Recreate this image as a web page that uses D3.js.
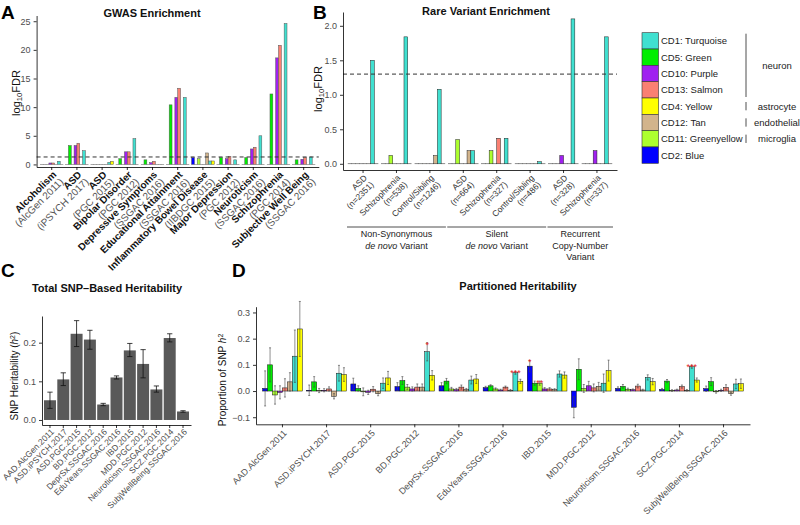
<!DOCTYPE html>
<meta charset="utf-8">
<script src="https://d3js.org/d3.v7.min.js"></script>
<style>
  body { margin: 0; background: #fff; font-family: "Liberation Sans", Arial, sans-serif; }
  .axis text { fill: #4d4d4d; font-size: 9px; font-family: "Liberation Sans", Arial, sans-serif; }
  .axis path, .axis line { stroke: #000; stroke-width: 0.8; }
  .title { font-weight: bold; font-size: 11px; fill: #111; }
  .letter { font-weight: bold; font-size: 19px; fill: #000; }
</style>
<div id="chart"></div>
<script>
// bar order inside every group (alphabetical, as ggplot dodges them)
var modules = ["blue", "green", "greenyellow", "purple", "salmon", "tan", "turquoise", "yellow"];
var moduleColors = ["#0000FF", "#00EE00", "#ADFF2F", "#A020F0", "#FA8072", "#D2B48C", "#40E0D0", "#FFFF00"];

var legendModules = ["turquoise", "green", "purple", "salmon", "yellow", "tan", "greenyellow", "blue"];
var legendLabels = ["CD1: Turquoise", "CD5: Green", "CD10: Purple", "CD13: Salmon",
  "CD4: Yellow", "CD12: Tan", "CD11: Greenyellow", "CD2: Blue"];
var cellTypes = ["neuron", "astrocyte", "endothelial", "microglia"];
var cellTypeRows = [[0, 3], [4, 4], [5, 5], [6, 6]];

// A: GWAS enrichment (log10 FDR)
var gwasTraits = ["Alcoholism", "ASD", "ASD", "Bipolar Disorder", "Depressive Symptoms",
  "Educational Attainment", "Inflammatory Bowel Disease", "Major Depression",
  "Neuroticism", "Schizophrenia", "Subjective Well Being"];
var gwasStudies = ["(AlcGen 2011)", "(iPSYCH 2017)", "(PGC 2015)", "(PGC 2012)", "(SSGAC 2016)",
  "(SSGAC 2016)", "(IIBDGC 2015)", "(PGC 2012)", "(SSGAC 2016)", "(PGC 2014)", "(SSGAC 2016)"];
var gwasFDR = [
  [0, 0, 0, 0.25, 0.25, 0, 0.55, 0],
  [0, 3.3, 0, 3.3, 3.7, 0, 2.4, 0],
  [0, 0, 0, 0, 0, 0, 0.35, 0.55],
  [0, 1.0, 0, 2.2, 2.2, 0, 4.5, 0],
  [0, 0.8, 0, 0.3, 0.55, 0, 0, 0],
  [0, 10.4, 0, 11.7, 13.3, 0, 11.7, 0],
  [1.2, 0, 1.0, 0, 0, 2.0, 0.6, 0.6],
  [0, 1.2, 0, 1.0, 1.4, 0, 0.8, 0],
  [0, 1.2, 0, 2.7, 3.0, 0, 5.0, 0],
  [0, 12.3, 0, 18.6, 20.8, 0, 24.6, 0],
  [0, 0.8, 0, 0.9, 1.2, 0, 1.3, 0]
];
var fdrCut = 1.3;

// B: rare variant enrichment
var rareGroups = ["ASD", "Schizophrenia", "Control/Sibling", "ASD", "Schizophrenia",
  "Control/Sibling", "ASD", "Schizophrenia"];
var rareN = ["(n=2351)", "(n=538)", "(n=1246)", "(n=664)", "(n=327)", "(n=486)", "(n=328)", "(n=337)"];
var rareFDR = [
  [0, 0, 0, 0, 0, 0, 1.5, 0],
  [0, 0, 0.12, 0, 0, 0, 1.84, 0],
  [0, 0, 0, 0, 0, 0.12, 1.08, 0],
  [0, 0, 0.35, 0, 0, 0.19, 0.19, 0],
  [0, 0, 0.19, 0, 0.37, 0, 0.37, 0],
  [0, 0, 0, 0, 0, 0, 0.03, 0],
  [0, 0, 0, 0.12, 0, 0, 2.1, 0],
  [0, 0, 0, 0.19, 0, 0, 1.84, 0]
];
var rareClassSpans = [[0, 2], [3, 5], [6, 7]];
var rareClassLines = [["Non-Synonymous", "*de novo* Variant"], ["Silent", "*de novo* Variant"],
  ["Recurrent", "Copy-Number", "Variant"]];

// C: total SNP heritability
var h2Studies = ["AAD.AlcGen.2011", "ASD.iPSYCH.2017", "ASD.PGC.2015", "BD.PGC.2012",
  "DeprSx.SSGAC.2016", "EduYears.SSGAC.2016", "IBD.2015", "MDD.PGC.2012",
  "Neuroticism.SSGAC.2016", "SCZ.PGC.2014", "SubjWellBeing.SSGAC.2016"];
var h2Values = [0.051, 0.105, 0.223, 0.208, 0.040, 0.110, 0.180, 0.145, 0.079, 0.212, 0.022];
var h2Low = [0.030, 0.089, 0.190, 0.183, 0.037, 0.106, 0.164, 0.109, 0.072, 0.202, 0.020];
var h2High = [0.072, 0.122, 0.257, 0.232, 0.043, 0.114, 0.198, 0.182, 0.088, 0.223, 0.024];

// D: partitioned heritability (proportion of SNP h2), same module order as above
var partValues = [
  [0.010, 0.100, -0.015, -0.005, 0.012, 0.035, 0.133, 0.237],
  [0.003, 0.035, 0.002, 0.003, 0.008, -0.020, 0.068, 0.063],
  [0.027, 0.010, -0.003, -0.005, 0.007, -0.010, 0.030, 0.050],
  [0.017, 0.040, 0.015, 0.008, 0.015, 0.015, 0.150, 0.060],
  [0.020, 0.038, 0.008, 0.005, 0.015, 0.005, 0.042, 0.046],
  [0.013, 0.020, 0.008, 0.004, 0.015, 0.003, 0.070, 0.037],
  [0.095, 0.030, 0.030, 0.008, 0.008, 0.005, 0.065, 0.061],
  [-0.062, 0.083, 0.010, 0.020, 0.012, 0.018, 0.030, 0.078],
  [0.010, 0.018, 0.007, 0.005, 0.019, 0.004, 0.052, 0.036],
  [0.006, 0.038, 0.002, 0.004, 0.017, 0.003, 0.093, 0.042],
  [0.009, 0.036, -0.003, 0.003, 0.014, -0.010, 0.027, 0.028]
];
var partErr = [
  [0.067, 0.065, 0.035, 0.025, 0.035, 0.035, 0.100, 0.105],
  [0.020, 0.020, 0.008, 0.006, 0.008, 0.010, 0.030, 0.026],
  [0.022, 0.010, 0.015, 0.008, 0.010, 0.008, 0.020, 0.025],
  [0.015, 0.015, 0.010, 0.008, 0.012, 0.012, 0.035, 0.018],
  [0.012, 0.010, 0.006, 0.005, 0.008, 0.005, 0.015, 0.017],
  [0.005, 0.004, 0.004, 0.003, 0.004, 0.003, 0.006, 0.008],
  [0.022, 0.008, 0.008, 0.005, 0.005, 0.004, 0.012, 0.012],
  [0.040, 0.040, 0.015, 0.017, 0.015, 0.015, 0.035, 0.040],
  [0.006, 0.007, 0.004, 0.003, 0.007, 0.003, 0.010, 0.012],
  [0.004, 0.006, 0.003, 0.003, 0.006, 0.003, 0.006, 0.008],
  [0.010, 0.015, 0.005, 0.004, 0.010, 0.006, 0.018, 0.018]
];
var starGroups = [3, 5, 6, 6, 9];
var starModules = ["turquoise", "turquoise", "blue", "greenyellow", "turquoise"];
var starText = ["*", "***", "*", "**", "***"];

var color = d3.scaleOrdinal().domain(modules).range(moduleColors);

var svg = d3.select("#chart").append("svg")
  .attr("width", 800)
  .attr("height", 525);

function toBars(row) {
  return row.map(function (v, j) { return { m: modules[j], v: v }; });
}

function groupedBars(g, rows, x, xin, y, stroke) {
  g.selectAll("g.grp")
    .data(rows)
    .join("g")
    .attr("class", "grp")
    .attr("transform", function (d, i) { return "translate(" + x(i) + ",0)"; })
    .selectAll("rect")
    .data(toBars)
    .join("rect")
    .attr("x", function (d) { return xin(d.m); })
    .attr("width", xin.bandwidth())
    .attr("y", function (d) { return Math.min(y(d.v), y(0)); })
    .attr("height", function (d) { return Math.max(0.01, Math.abs(y(0) - y(d.v))); })
    .attr("fill", function (d) { return color(d.m); })
    .attr("stroke", stroke)
    .attr("stroke-width", 0.5);
}

// rotated tick labels, one or more lines, right aligned on the tick
function slantLabels(g, x, y0, lines, size, lh, styles) {
  lines[0].forEach(function (t, i) {
    var txt = g.append("text")
      .attr("transform", "translate(" + (x(i) + x.bandwidth() / 2) + "," + y0 + ") rotate(-45)")
      .attr("text-anchor", "end")
      .style("font-size", size + "px");
    lines.forEach(function (arr, k) {
      txt.append("tspan")
        .attr("x", 0)
        .attr("y", size * 0.75 + k * lh)
        .attr("fill", styles[k].fill)
        .style("font-weight", styles[k].weight)
        .text(arr[i]);
    });
  });
}

function yTitle(g, x, y, parts, size) {
  var t = g.append("text")
    .attr("transform", "translate(" + x + "," + y + ") rotate(-90)")
    .attr("text-anchor", "middle")
    .style("font-size", size + "px")
    .attr("fill", "#111");
  parts.forEach(function (p) {
    var s = t.append("tspan").text(p.t);
    if (p.sub) s.attr("baseline-shift", "-25%").style("font-size", (size * 0.7) + "px");
    if (p.sup) s.attr("baseline-shift", "40%").style("font-size", (size * 0.7) + "px");
    if (p.it) s.style("font-style", "italic");
  });
}

// ---------------- A ----------------
var gA = svg.append("g");
var xA = d3.scaleBand().domain(d3.range(gwasTraits.length)).range([36.6, 318.8])
  .paddingInner(0.1).paddingOuter(0.15);
var xAin = d3.scaleBand().domain(modules).range([0, xA.bandwidth()]);
var yA = d3.scaleLinear().domain([-0.45, 26]).range([167, 15.5]);

groupedBars(gA, gwasFDR, xA, xAin, yA, "#555");

gA.append("line")
  .attr("x1", 36.6).attr("x2", 318.8)
  .attr("y1", yA(fdrCut)).attr("y2", yA(fdrCut))
  .attr("stroke", "#333").attr("stroke-width", 1).attr("stroke-dasharray", "4,3");

gA.append("g").attr("class", "axis")
  .attr("transform", "translate(0," + yA.range()[0] + ")")
  .call(d3.axisBottom(xA).tickSize(3).tickSizeOuter(0).tickFormat(""));
gA.append("g").attr("class", "axis")
  .attr("transform", "translate(36.6,0)")
  .call(d3.axisLeft(yA).tickValues([0, 5, 10, 15, 20, 25]).tickSize(3).tickSizeOuter(0));

slantLabels(gA, xA, 170, [gwasTraits, gwasStudies], 10, 10,
  [{ fill: "#111", weight: "bold" }, { fill: "#555", weight: "normal" }]);

yTitle(gA, 20, 93, [{ t: "log" }, { t: "10", sub: true }, { t: "FDR" }], 11);
gA.append("text").attr("class", "title").attr("x", 152).attr("y", 17)
  .attr("text-anchor", "middle").text("GWAS Enrichment");
gA.append("text").attr("class", "letter").attr("x", 1).attr("y", 19).text("A");

// ---------------- B ----------------
var gB = svg.append("g");
var xB = d3.scaleBand().domain(d3.range(rareGroups.length)).range([343, 617])
  .paddingInner(0.1).paddingOuter(0.15);
var xBin = d3.scaleBand().domain(modules).range([0, xB.bandwidth()]);
var yB = d3.scaleLinear().domain([-0.09, 2.2]).range([170, 12]);

groupedBars(gB, rareFDR, xB, xBin, yB, "#222");

gB.append("line")
  .attr("x1", 343).attr("x2", 617)
  .attr("y1", yB(fdrCut)).attr("y2", yB(fdrCut))
  .attr("stroke", "#333").attr("stroke-width", 1).attr("stroke-dasharray", "4,3");

gB.append("g").attr("class", "axis")
  .attr("transform", "translate(0," + yB.range()[0] + ")")
  .call(d3.axisBottom(xB).tickSize(3).tickSizeOuter(0).tickFormat(""));
gB.append("g").attr("class", "axis")
  .attr("transform", "translate(343,0)")
  .call(d3.axisLeft(yB).tickValues([0, 0.5, 1, 1.5, 2]).tickFormat(d3.format(".1f"))
    .tickSize(3).tickSizeOuter(0));

slantLabels(gB, xB, 174, [rareGroups, rareN], 8.5, 9.5,
  [{ fill: "#333", weight: "normal" }, { fill: "#333", weight: "normal" }]);

rareClassSpans.forEach(function (s, k) {
  var x1 = xB(s[0]) - 1, x2 = xB(s[1]) + xB.bandwidth() + 1;
  gB.append("line").attr("x1", x1).attr("x2", x2).attr("y1", 227).attr("y2", 227)
    .attr("stroke", "#222").attr("stroke-width", 0.8);
  var t = gB.append("text").attr("text-anchor", "middle").style("font-size", "9px").attr("fill", "#222");
  rareClassLines[k].forEach(function (line, j) {
    var ts = t.append("tspan").attr("x", (x1 + x2) / 2).attr("y", 237 + j * 11.5);
    line.split("*").forEach(function (part, p) {
      if (part === "") return;
      ts.append("tspan").style("font-style", p % 2 ? "italic" : "normal").text(part);
    });
  });
});

yTitle(gB, 322, 89, [{ t: "log" }, { t: "10", sub: true }, { t: "FDR" }], 11);
gB.append("text").attr("class", "title").attr("x", 486).attr("y", 15)
  .attr("text-anchor", "middle").text("Rare Variant Enrichment");
gB.append("text").attr("class", "letter").attr("x", 313).attr("y", 19).text("B");

// ---------------- legend ----------------
var gL = svg.append("g");
var yL = d3.scaleBand().domain(legendModules).range([32.7, 163.3]);
gL.selectAll("rect").data(legendModules).join("rect")
  .attr("x", 642).attr("width", 16.5)
  .attr("y", function (d) { return yL(d); })
  .attr("height", yL.bandwidth())
  .attr("fill", function (d) { return color(d); })
  .attr("stroke", "#333").attr("stroke-width", 0.6);
gL.selectAll("text.lg").data(legendLabels).join("text")
  .attr("class", "lg")
  .attr("x", 661)
  .attr("y", function (d, i) { return yL(legendModules[i]) + yL.bandwidth() / 2 + 3.5; })
  .style("font-size", "9.5px").attr("fill", "#222")
  .text(function (d) { return d; });
cellTypes.forEach(function (c, k) {
  var r = cellTypeRows[k];
  var top = yL(legendModules[r[0]]), bot = yL(legendModules[r[1]]) + yL.bandwidth();
  var pad = r[0] === r[1] ? 4 : 1;
  gL.append("line").attr("x1", 746).attr("x2", 746)
    .attr("y1", top + pad).attr("y2", bot - pad)
    .attr("stroke", "#222").attr("stroke-width", 0.8);
  gL.append("text").attr("x", 777).attr("y", (top + bot) / 2 + 3.5)
    .attr("text-anchor", "middle").style("font-size", "9.5px").attr("fill", "#222").text(c);
});

// ---------------- C ----------------
var gC = svg.append("g");
var xC = d3.scaleBand().domain(d3.range(h2Studies.length)).range([42, 191])
  .paddingInner(0.1).paddingOuter(0.15);
var yC = d3.scaleLinear().domain([-0.013, 0.269]).range([425, 316]);

gC.selectAll("rect").data(h2Values).join("rect")
  .attr("x", function (d, i) { return xC(i); })
  .attr("width", xC.bandwidth())
  .attr("y", function (d) { return yC(d); })
  .attr("height", function (d) { return yC(0) - yC(d); })
  .attr("fill", "#595959");
var cw = xC.bandwidth() * 0.22;
gC.selectAll("path.err").data(h2Values).join("path")
  .attr("class", "err")
  .attr("d", function (d, i) {
    var cx = xC(i) + xC.bandwidth() / 2, lo = yC(h2Low[i]), hi = yC(h2High[i]);
    return "M" + (cx - cw) + "," + hi + "H" + (cx + cw) + "M" + cx + "," + hi + "V" + lo +
      "M" + (cx - cw) + "," + lo + "H" + (cx + cw);
  })
  .attr("fill", "none").attr("stroke", "#111").attr("stroke-width", 0.8);

gC.append("g").attr("class", "axis")
  .attr("transform", "translate(0," + yC.range()[0] + ")")
  .call(d3.axisBottom(xC).tickSize(3).tickSizeOuter(0).tickFormat(""));
gC.append("g").attr("class", "axis")
  .attr("transform", "translate(42,0)")
  .call(d3.axisLeft(yC).tickValues([0, 0.1, 0.2]).tickFormat(d3.format(".1f"))
    .tickSize(3).tickSizeOuter(0));

slantLabels(gC, xC, 428, [h2Studies], 8.5, 10, [{ fill: "#4d4d4d", weight: "normal" }]);

yTitle(gC, 18, 376, [{ t: "SNP Heritability (" }, { t: "h", it: true }, { t: "2", sup: true }, { t: ")" }], 10);
gC.append("text").attr("class", "title").attr("x", 107).attr("y", 292)
  .attr("text-anchor", "middle").text("Total SNP\u2013Based Heritability");
gC.append("text").attr("class", "letter").attr("x", 1).attr("y", 277).text("C");

// ---------------- D ----------------
var gD = svg.append("g");
var xD = d3.scaleBand().domain(d3.range(partValues.length)).range([256, 750])
  .paddingInner(0.1).paddingOuter(0.15);
var xDin = d3.scaleBand().domain(modules).range([0, xD.bandwidth()]);
var yD = d3.scaleLinear().domain([-0.127, 0.322]).range([424.3, 306.7]);

groupedBars(gD, partValues, xD, xDin, yD, "#111");

gD.selectAll("g.errs").data(partValues).join("g")
  .attr("class", "errs")
  .attr("transform", function (d, i) { return "translate(" + xD(i) + ",0)"; })
  .selectAll("path")
  .data(function (row, i) {
    return row.map(function (v, j) { return { m: modules[j], v: v, e: partErr[i][j] }; });
  })
  .join("path")
  .attr("d", function (d) {
    var cx = xDin(d.m) + xDin.bandwidth() / 2, hi = yD(d.v + d.e), lo = yD(d.v - d.e);
    return "M" + (cx - 1) + "," + hi + "H" + (cx + 1) + "M" + cx + "," + hi + "V" + lo +
      "M" + (cx - 1) + "," + lo + "H" + (cx + 1);
  })
  .attr("fill", "none").attr("stroke", "#444").attr("stroke-width", 0.6);

gD.selectAll("text.star").data(starText).join("text")
  .attr("class", "star")
  .attr("x", function (d, k) {
    return xD(starGroups[k]) + xDin(starModules[k]) + xDin.bandwidth() / 2;
  })
  .attr("y", function (d, k) {
    var j = modules.indexOf(starModules[k]), g = starGroups[k];
    return yD(partValues[g][j] + partErr[g][j]) + 5;
  })
  .attr("text-anchor", "middle")
  .style("font-size", "9px").attr("fill", "#e41a1c")
  .text(function (d) { return d; });

gD.append("g").attr("class", "axis")
  .attr("transform", "translate(0," + yD.range()[0] + ")")
  .call(d3.axisBottom(xD).tickSize(3).tickSizeOuter(0).tickFormat(""));
gD.append("g").attr("class", "axis")
  .attr("transform", "translate(256,0)")
  .call(d3.axisLeft(yD).tickValues([-0.1, 0, 0.1, 0.2, 0.3]).tickFormat(d3.format(".1f"))
    .tickSize(3).tickSizeOuter(0));

slantLabels(gD, xD, 429, [h2Studies], 9, 10, [{ fill: "#4d4d4d", weight: "normal" }]);

yTitle(gD, 226, 380, [{ t: "Proportion of SNP " }, { t: "h", it: true }, { t: "2", sup: true }], 10);
gD.append("text").attr("class", "title").attr("x", 518).attr("y", 290)
  .attr("text-anchor", "middle").text("Partitioned Heritability");
gD.append("text").attr("class", "letter").attr("x", 232).attr("y", 277).text("D");
</script>
